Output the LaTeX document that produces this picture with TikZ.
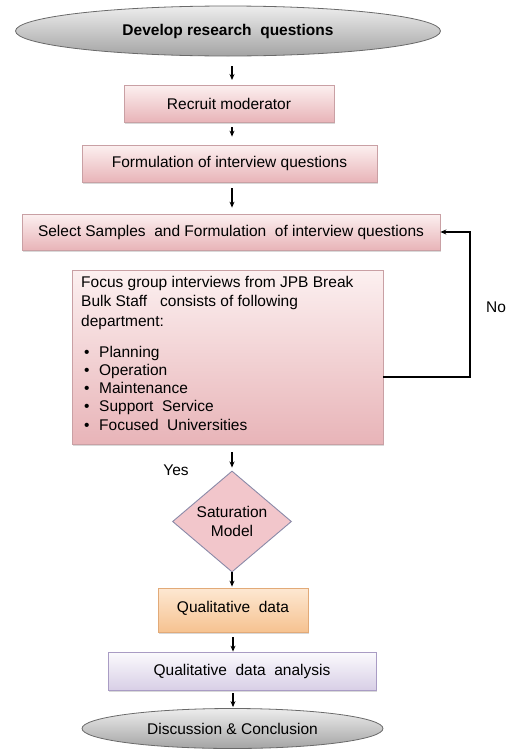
\documentclass[tikz,border=0pt]{standalone}
\usepackage{fontspec}
\setmainfont{Liberation Sans}
\usetikzlibrary{shapes.geometric,arrows.meta,shadows}
\definecolor{pinktop}{HTML}{FCF0F0}
\definecolor{pinkbot}{HTML}{E8B4B8}
\definecolor{pinkline}{HTML}{C9A0A4}
\definecolor{orgtop}{HTML}{FDE8D2}
\definecolor{orgbot}{HTML}{F6C290}
\definecolor{orgline}{HTML}{E2AA78}
\definecolor{lavtop}{HTML}{FBFAFD}
\definecolor{lavbot}{HTML}{D8CFE6}
\definecolor{lavline}{HTML}{A99CC4}
\definecolor{graytop}{HTML}{EDEDED}
\definecolor{graybot}{HTML}{A4A4A4}
\definecolor{grayline}{HTML}{6A6A6A}
\definecolor{diafill}{HTML}{F2C6CB}
\definecolor{dialine}{HTML}{8A8AA8}
\begin{document}
\begin{tikzpicture}[x=1pt,y=-1pt,
  txt/.style={font=\fontsize{15.5}{19}\selectfont},
  shad/.style={drop shadow={shadow xshift=1pt,shadow yshift=-2pt,opacity=0.25,fill=black!60}},
  pinkbox/.style={txt,shad,draw=pinkline,line width=0.8pt,top color=pinktop,bottom color=pinkbot,inner sep=0pt},
  orgbox/.style={txt,shad,draw=orgline,line width=0.8pt,top color=orgtop,bottom color=orgbot,inner sep=0pt},
  lavbox/.style={txt,shad,draw=lavline,line width=0.8pt,top color=lavtop,bottom color=lavbot,inner sep=0pt},
  oval/.style={txt,shape=ellipse,draw=grayline,line width=0.8pt,top color=graytop,bottom color=graybot,inner sep=0pt},
  arr/.style={-{Stealth[length=6pt,width=5pt]},line width=1.1pt,black},
  lineitem/.style={txt,anchor=base west,inner sep=0pt}]
\useasboundingbox (0,0) rectangle (508,750);

% top ellipse
\node[oval,minimum width=425pt,minimum height=50pt,font=\fontsize{15.5}{19}\selectfont\bfseries] (top) at (228,31) {Develop research\ \ questions};

\node[pinkbox,minimum width=210pt,minimum height=37pt] (rec) at (229,103.5) {Recruit moderator};
\node[pinkbox,minimum width=295pt,minimum height=37pt] (form) at (229.5,163.5) {Formulation of interview questions};
\node[pinkbox,minimum width=418pt,minimum height=36pt] (sel) at (231,232) {Select Samples\ \ and Formulation\ \ of interview questions};

% focus group box
\node[pinkbox,minimum width=311pt,minimum height=174pt] (focus) at (227.5,357) {};
\node[lineitem] (l1) at (81,287) {Focus group interviews from JPB Break};
\node[lineitem] (l2) at (81,306.5) {Bulk Staff\ \ \ consists of following};
\node[lineitem] (l3) at (81,326) {department:};
\node[lineitem] (b1) at (84,357) {\makebox[15pt][l]{•}Planning};
\node[lineitem] (b2) at (84,375) {\makebox[15pt][l]{•}Operation};
\node[lineitem] (b3) at (84,393) {\makebox[15pt][l]{•}Maintenance};
\node[lineitem] (b4) at (84,411) {\makebox[15pt][l]{•}Support\ \ Service};
\node[lineitem] (b5) at (84,430) {\makebox[15pt][l]{•}Focused\ \ Universities};

% diamond
\node[txt,shape=diamond,draw=dialine,line width=0.9pt,fill=diafill,inner sep=0pt,
      minimum width=119pt,minimum height=91pt,align=center] (sat) at (232,521.5)
      {Saturation\\Model};

\node[orgbox,minimum width=150pt,minimum height=44pt] (qual) at (233,610) {\raisebox{6pt}{Qualitative\ \ data}};
\node[lavbox,minimum width=268pt,minimum height=38pt] (ana) at (242,671) {Qualitative\ \ data\ \ analysis};

\node[oval,minimum width=301pt,minimum height=40pt] (end) at (232.5,728.5) {Discussion \& Conclusion};

% labels
\node[txt,inner sep=0pt] (yes) at (176,470) {Yes};
\node[txt,inner sep=0pt] (no) at (496,307) {No};

% arrows
\draw[arr,shorten <=10pt,shorten >=5pt] (top.south -| 232,0) -- (232,85);
\draw[arr,shorten <=5pt,shorten >=8pt] (rec.south -| 232,0) -- (form.north -| 232,0);
\draw[arr,shorten <=6pt,shorten >=6pt] (form.south -| 232,0) -- (sel.north -| 232,0);
\draw[arr,shorten <=8pt,shorten >=3pt] (focus.south -| 232,0) -- (sat.north);
\draw[arr,shorten >=1pt] (sat.south) -- (qual.north -| 232,0);
\draw[arr,shorten <=5pt] (qual.south -| 233,0) -- (ana.north -| 233,0);
\draw[arr,shorten <=3pt,shorten >=1pt] (ana.south -| 233,0) -- (end.north -| 233,0);

% feedback loop
\coordinate (c1) at (470,377);
\coordinate (c2) at (470,232);
\draw[arr,line width=1.2pt] (focus.east |- c1) -- (c1) -- (c2) -- (sel.east);
\end{tikzpicture}
\end{document}
